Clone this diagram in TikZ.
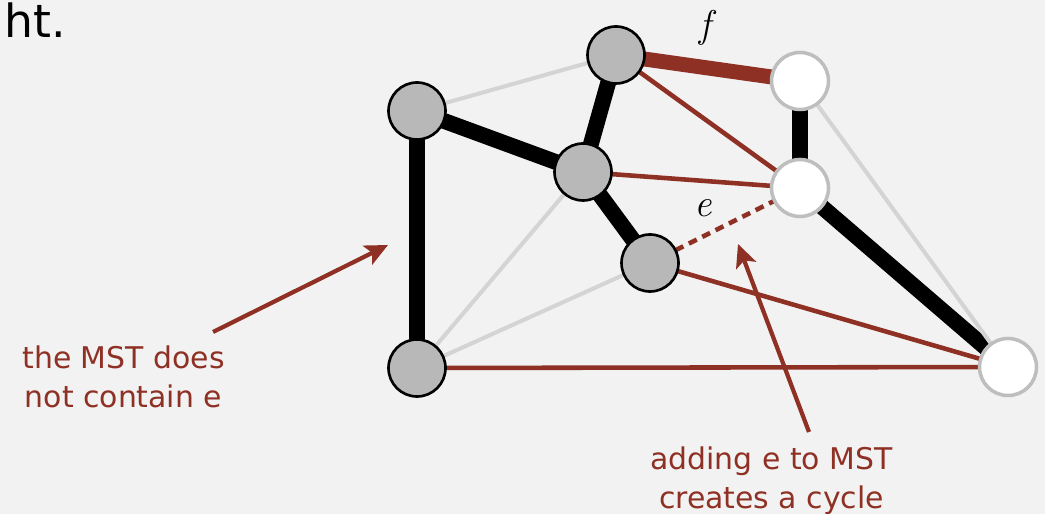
\documentclass[tikz,border=0pt]{standalone}
\usepackage{amssymb,amsmath}
\usepackage{xcolor}
\usepackage{tikz-network}
\usepackage{fontspec}
\newfontfamily\textofont{DejaVu Sans}
\usetikzlibrary{arrows.meta}
\definecolor{Rojo}{RGB}{143, 48, 36}
\definecolor{GrisNodo}{RGB}{184, 184, 184}
\definecolor{GrisClaro}{RGB}{212, 212, 212}
\definecolor{GrisBorde}{RGB}{190, 190, 190}
\definecolor{Fondo}{RGB}{242, 242, 242}
\tikzset{
  flecha/.style={draw=Rojo, line width=2.4pt, -{Stealth[length=13pt,width=12pt,inset=3pt]}},
  nota/.style={text=Rojo, align=center, inner sep=0pt, font=\textofont\fontsize{17}{22}\selectfont},
  etiqueta/.style={font=\fontsize{22}{26}\selectfont\itshape},
}
\pagecolor{Fondo}
\begin{document}
\begin{tikzpicture}
            \useasboundingbox (0,0) rectangle (20.9,10.28);
            %Grafo de 8 vertices
            \Vertex[x=8.34,y=8.06,size=1.14, color=GrisNodo, style={draw=black, line width=1.5pt}]{A}
            \Vertex[x=12.32,y=9.18,size=1.14, color=GrisNodo, style={draw=black, line width=1.5pt}]{B}
            \Vertex[x=11.66,y=6.84,size=1.14, color=GrisNodo, style={draw=black, line width=1.5pt}]{C}
            \Vertex[x=13.00,y=5.02,size=1.14, color=GrisNodo, style={draw=black, line width=1.5pt}]{D}
            \Vertex[x=8.34,y=2.92,size=1.14, color=GrisNodo, style={draw=black, line width=1.5pt}]{E}
            \Vertex[x=16.00,y=8.66,size=1.14, color=white, style={draw=GrisBorde, line width=2pt}]{F}
            \Vertex[x=16.00,y=6.52,size=1.14, color=white, style={draw=GrisBorde, line width=2pt}]{G}
            \Vertex[x=20.16,y=2.94,size=1.14, color=white, style={draw=GrisBorde, line width=2pt}]{H}
            \Edge[lw=9pt, color=black](A)(E)
            \Edge[lw=9pt, color=black](A)(C)
            \Edge[lw=9pt, color=black](C)(B)
            \Edge[lw=9pt, color=black](C)(D)
            \Edge[lw=9pt, color=black](F)(G)
            \Edge[lw=9pt, color=black](G)(H)
            \Edge[lw=8.5pt, color=Rojo](B)(F)
            \Edge[lw=2.6pt, color=Rojo](B)(G)
            \Edge[lw=2.6pt, color=Rojo](C)(G)
            \Edge[lw=2.6pt, color=Rojo](D)(H)
            \Edge[lw=2.6pt, color=Rojo](E)(H)
            \Edge[lw=2.6pt, color=Rojo, style={dash pattern=on 5pt off 3.5pt}](D)(G)
            \Edge[lw=2.3pt, color=GrisClaro](A)(B)
            \Edge[lw=2.3pt, color=GrisClaro](C)(E)
            \Edge[lw=2.3pt, color=GrisClaro](D)(E)
            \Edge[lw=2.3pt, color=GrisClaro](F)(H)
            %etiquetas
            \node[etiqueta] (etiqF) at (14.10,9.72) {f};
            \node[etiqueta] (etiqE) at (14.06,6.12) {e};
            \node[anchor=base west, inner sep=0pt, font=\textofont\fontsize{26}{30}\selectfont] (resto) at (0.08,9.52) {ht.};
            \node[nota] (notaMST) at (2.47,2.74) {the MST does\\not contain e};
            \node[nota] (notaCiclo) at (15.43,0.67) {adding e to MST\\creates a cycle};
            \coordinate (inicioA) at (4.26,3.64);
            \coordinate (puntaA) at (7.76,5.38);
            \coordinate (inicioB) at (16.18,1.64);
            \coordinate (puntaB) at (14.76,5.40);
            \draw[flecha] (inicioA) -- (puntaA);
            \draw[flecha] (inicioB) -- (puntaB);
        \end{tikzpicture}
\end{document}
